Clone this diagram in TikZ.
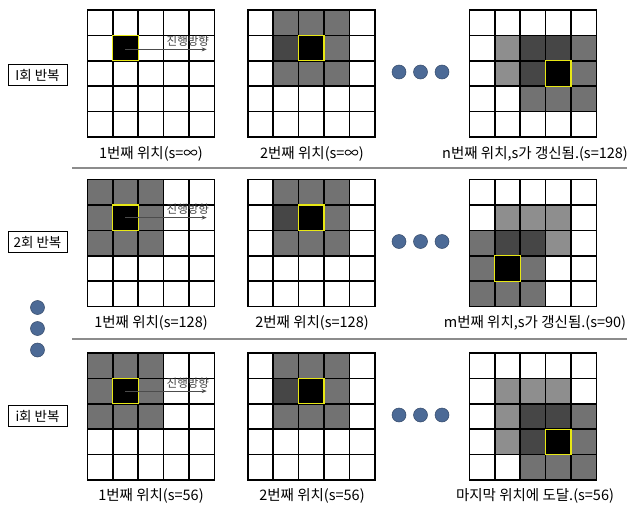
\documentclass[tikz,border=0pt]{standalone}
\usepackage{fontspec}
\setmainfont{Noto Sans CJK KR}
\usetikzlibrary{arrows.meta,positioning}

\definecolor{cellLight}{RGB}{142,142,142}
\definecolor{cellMid}{RGB}{114,114,114}
\definecolor{cellDark}{RGB}{70,70,70}
\definecolor{dotBlue}{RGB}{76,106,150}
\definecolor{markYellow}{RGB}{232,232,20}

\tikzset{
  gridline/.style={line width=1.6pt, black},
  curcell/.style={fill=black, draw=markYellow, line width=1.2pt},
  dirarrow/.style={-{Stealth[length=5pt,width=4pt]}, draw=black!70, line width=1pt},
  dirtext/.style={font=\fontsize{11.5}{12}\selectfont, text=black!75, inner sep=0pt},
  poslabel/.style={font=\fontsize{14.5}{16}\selectfont, inner sep=0pt},
  repbox/.style={draw, line width=0.6pt, font=\fontsize{13.5}{15}\selectfont,
    minimum width=59pt, minimum height=21pt, inner sep=1pt},
  sepline/.style={draw=black!45, line width=1.4pt},
  bigdot/.style={fill=dotBlue, draw=dotBlue!70!black, line width=0.5pt},
}

\begin{document}
\begin{tikzpicture}[x=1pt, y=-1pt]
\useasboundingbox (0,0) rectangle (627,506);

% ---------- 1st iteration ----------
\node[repbox] (rep1) at (37.5,75) {I회 반복};

\begin{scope}[shift={(87.3,10)}, x=25.4pt, y=-25.4pt]
  \draw[gridline] (0,0) rectangle (5,5);
  \foreach \i in {1,...,4} \draw[gridline] (\i,0) -- (\i,5) (0,\i) -- (5,\i);
  \draw[curcell] (1,1) rectangle (2,2);
  \coordinate (s1) at (1.5,1.55);
  \coordinate (e1) at (4.7,1.55);
  \draw[dirarrow] (s1) -- (e1);
  \node[dirtext] (dir1) at (3.96,1.22) {진행방향};
\end{scope}

\begin{scope}[shift={(247.7,10)}, x=25.4pt, y=-25.4pt]
  \foreach \c/\r/\k in {1/0/cellMid, 2/0/cellMid, 3/0/cellMid, 1/1/cellDark, 3/1/cellMid,
                        1/2/cellMid, 2/2/cellMid, 3/2/cellMid}
    \fill[\k] (\c,\r) rectangle +(1,1);
  \draw[gridline] (0,0) rectangle (5,5);
  \foreach \i in {1,...,4} \draw[gridline] (\i,0) -- (\i,5) (0,\i) -- (5,\i);
  \draw[curcell] (2,1) rectangle (3,2);
\end{scope}

\begin{scope}[shift={(469.3,10)}, x=25.4pt, y=-25.4pt]
  \foreach \c/\r/\k in {1/1/cellLight, 2/1/cellDark, 3/1/cellDark, 4/1/cellMid,
                        1/2/cellLight, 2/2/cellDark, 4/2/cellMid,
                        2/3/cellMid, 3/3/cellMid, 4/3/cellMid}
    \fill[\k] (\c,\r) rectangle +(1,1);
  \draw[gridline] (0,0) rectangle (5,5);
  \foreach \i in {1,...,4} \draw[gridline] (\i,0) -- (\i,5) (0,\i) -- (5,\i);
  \draw[curcell] (3,2) rectangle (4,3);
\end{scope}

\foreach \x in {399,420.5,442} \fill[bigdot] (\x,72) circle (7);

\node[poslabel] (pos11) at (151,153.5) {1번째 위치(s=∞)};
\node[poslabel] (pos12) at (312,153.5) {2번째 위치(s=∞)};
\node[poslabel] (pos13) at (535,153.5) {n번째 위치,s가 갱신됨.(s=128)};

\draw[sepline] (72,168) -- (627,168);

% ---------- 2nd iteration ----------
\node[repbox] (rep2) at (37.5,242) {2회 반복};

\begin{scope}[shift={(87.3,179.5)}, x=25.4pt, y=-25.4pt]
  \foreach \c/\r in {0/0, 1/0, 2/0, 0/1, 2/1, 0/2, 1/2, 2/2}
    \fill[cellMid] (\c,\r) rectangle +(1,1);
  \draw[gridline] (0,0) rectangle (5,5);
  \foreach \i in {1,...,4} \draw[gridline] (\i,0) -- (\i,5) (0,\i) -- (5,\i);
  \draw[curcell] (1,1) rectangle (2,2);
  \coordinate (s2) at (1.5,1.5);
  \coordinate (e2) at (4.7,1.5);
  \draw[dirarrow] (s2) -- (e2);
  \node[dirtext] (dir2) at (3.96,1.17) {진행방향};
\end{scope}

\begin{scope}[shift={(247.7,179.5)}, x=25.4pt, y=-25.4pt]
  \foreach \c/\r/\k in {1/0/cellMid, 2/0/cellMid, 3/0/cellMid, 1/1/cellDark, 3/1/cellMid,
                        1/2/cellMid, 2/2/cellMid, 3/2/cellMid}
    \fill[\k] (\c,\r) rectangle +(1,1);
  \draw[gridline] (0,0) rectangle (5,5);
  \foreach \i in {1,...,4} \draw[gridline] (\i,0) -- (\i,5) (0,\i) -- (5,\i);
  \draw[curcell] (2,1) rectangle (3,2);
\end{scope}

\begin{scope}[shift={(469.3,179.5)}, x=25.4pt, y=-25.4pt]
  \foreach \c/\r/\k in {1/1/cellLight, 2/1/cellLight, 3/1/cellLight,
                        0/2/cellMid, 1/2/cellDark, 2/2/cellDark, 3/2/cellLight,
                        0/3/cellMid, 2/3/cellMid,
                        0/4/cellMid, 1/4/cellMid, 2/4/cellMid}
    \fill[\k] (\c,\r) rectangle +(1,1);
  \draw[gridline] (0,0) rectangle (5,5);
  \foreach \i in {1,...,4} \draw[gridline] (\i,0) -- (\i,5) (0,\i) -- (5,\i);
  \draw[curcell] (1,3) rectangle (2,4);
\end{scope}

\foreach \x in {399,420.5,442} \fill[bigdot] (\x,241.5) circle (7);

\node[poslabel] (pos21) at (151,322.5) {1번째 위치(s=128)};
\node[poslabel] (pos22) at (312,322.5) {2번째 위치(s=128)};
\node[poslabel] (pos23) at (535,322.5) {m번째 위치,s가 갱신됨.(s=90)};

\draw[sepline] (72,339) -- (627,339);

% dots between iterations
\foreach \y in {307.5,328.5,350} \fill[bigdot] (37.5,\y) circle (7);

% ---------- i-th iteration ----------
\node[repbox] (rep3) at (37.5,416) {i회 반복};

\begin{scope}[shift={(87.3,353)}, x=25.4pt, y=-25.4pt]
  \foreach \c/\r in {0/0, 1/0, 2/0, 0/1, 2/1, 0/2, 1/2, 2/2}
    \fill[cellMid] (\c,\r) rectangle +(1,1);
  \draw[gridline] (0,0) rectangle (5,5);
  \foreach \i in {1,...,4} \draw[gridline] (\i,0) -- (\i,5) (0,\i) -- (5,\i);
  \draw[curcell] (1,1) rectangle (2,2);
  \coordinate (s3) at (1.5,1.5);
  \coordinate (e3) at (4.7,1.5);
  \draw[dirarrow] (s3) -- (e3);
  \node[dirtext] (dir3) at (3.96,1.17) {진행방향};
\end{scope}

\begin{scope}[shift={(247.7,353)}, x=25.4pt, y=-25.4pt]
  \foreach \c/\r/\k in {1/0/cellMid, 2/0/cellMid, 3/0/cellMid, 1/1/cellDark, 3/1/cellMid,
                        1/2/cellMid, 2/2/cellMid, 3/2/cellMid}
    \fill[\k] (\c,\r) rectangle +(1,1);
  \draw[gridline] (0,0) rectangle (5,5);
  \foreach \i in {1,...,4} \draw[gridline] (\i,0) -- (\i,5) (0,\i) -- (5,\i);
  \draw[curcell] (2,1) rectangle (3,2);
\end{scope}

\begin{scope}[shift={(469.3,353)}, x=25.4pt, y=-25.4pt]
  \foreach \c/\r/\k in {1/1/cellLight, 2/1/cellLight, 3/1/cellLight,
                        1/2/cellLight, 2/2/cellDark, 3/2/cellDark, 4/2/cellMid,
                        1/3/cellLight, 2/3/cellDark, 4/3/cellMid,
                        2/4/cellMid, 3/4/cellMid, 4/4/cellMid}
    \fill[\k] (\c,\r) rectangle +(1,1);
  \draw[gridline] (0,0) rectangle (5,5);
  \foreach \i in {1,...,4} \draw[gridline] (\i,0) -- (\i,5) (0,\i) -- (5,\i);
  \draw[curcell] (3,3) rectangle (4,4);
\end{scope}

\foreach \x in {399,420.5,442} \fill[bigdot] (\x,415) circle (7);

\node[poslabel] (pos31) at (151,495.5) {1번째 위치(s=56)};
\node[poslabel] (pos32) at (312,495.5) {2번째 위치(s=56)};
\node[poslabel] (pos33) at (535,495.5) {마지막 위치에 도달.(s=56)};
\end{tikzpicture}
\end{document}
